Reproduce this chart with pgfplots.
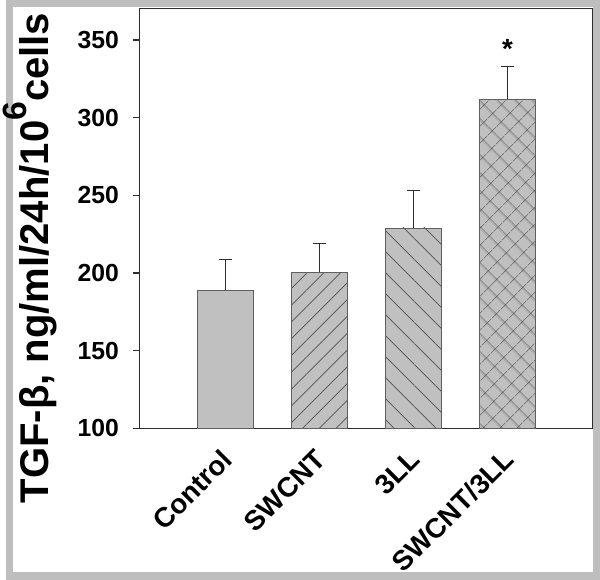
\documentclass[border=0pt]{standalone}
\usepackage{pgfplots}
\pgfplotsset{compat=1.18}
\usepackage{fontspec}
\setmainfont{Liberation Sans}
\usetikzlibrary{patterns.meta}

\definecolor{framegray}{RGB}{190,190,190}
\definecolor{barfill}{RGB}{192,192,192}
\definecolor{patgray}{RGB}{80,80,80}
\definecolor{edgegray}{RGB}{95,95,95}
\definecolor{axisgray}{RGB}{45,45,45}

\begin{document}
\begin{tikzpicture}[x=1pt,y=1pt]
  % grey frame of the figure
  \fill[framegray] (-135,-153) rectangle (465,433);
  \fill[white] (-128,-145) rectangle (458,426);
  \begin{axis}[
      at={(0,0)}, anchor=south west,
      scale only axis,
      width=457pt, height=424pt,
      xmin=-0.91, xmax=3.9,
      ymin=100, ymax=370,
      ytick={100,150,...,350},
      xtick={0,1,2,3},
      xticklabels={Control,SWCNT,3LL,SWCNT/3LL},
      xtick style={draw=none},
      ytick pos=left,
      tick align=outside,
      major tick length=7pt,
      axis line style={draw=axisgray, line width=1.1pt},
      every tick/.style={axisgray, line width=1.1pt},
      /pgf/number format/assume math mode=true,
      yticklabel style={font=\fontsize{25}{25}\selectfont\bfseries, inner xsep=14pt},
      % shifts first, so that they act in the page frame and not along the rotated text
      xticklabel style={font=\fontsize{28}{28}\selectfont\bfseries,
        xshift=1.6pt, yshift=-19.5pt, rotate=45, anchor=east, inner sep=0pt},
      ylabel={TGF-β, ng/ml/24h/10\raisebox{0.55em}{\fontsize{34}{34}\selectfont 6}cells},
      every axis y label/.style={at={(axis description cs:-0.175,0.406)}, rotate=90, anchor=south,
        font=\fontsize{40.5}{40.5}\selectfont\bfseries},
      clip=true,
    ]
    \addplot[ybar, bar width=57pt, bar shift=0pt, fill=barfill, draw=edgegray, line width=0.9pt]
      coordinates {(0,189)};
    \addplot[ybar, bar width=57pt, bar shift=0pt, fill=barfill, draw=edgegray, line width=0.9pt,
      postaction={pattern={Lines[angle=45,distance=12pt,line width=0.7pt]}, pattern color=patgray}]
      coordinates {(1,200.5)};
    \addplot[ybar, bar width=57pt, bar shift=0pt, fill=barfill, draw=edgegray, line width=0.9pt,
      postaction={pattern={Lines[angle=-45,distance=15pt,line width=0.7pt]}, pattern color=patgray}]
      coordinates {(2,229)};
    \addplot[ybar, bar width=57pt, bar shift=0pt, fill=barfill, draw=edgegray, line width=0.9pt,
      postaction={pattern={Hatch[angle=45,distance=13pt,line width=0.7pt]}, pattern color=patgray}]
      coordinates {(3,312)};
    % error bars (upper only)
    \addplot[draw=none, mark=none, forget plot,
      error bars/.cd, y dir=plus, y explicit,
      error bar style={draw=axisgray, line width=1.1pt},
      error mark options={draw=axisgray, line width=1.1pt, mark size=6.5pt, rotate=90}]
      coordinates {(0,189) +- (0,20) (1,200.5) +- (0,18.5) (2,229) +- (0,24) (3,312) +- (0,21)};
    \node[anchor=base, font=\fontsize{28}{28}\selectfont\bfseries] at (axis cs:3,338) {*};
  \end{axis}
\end{tikzpicture}
\end{document}
